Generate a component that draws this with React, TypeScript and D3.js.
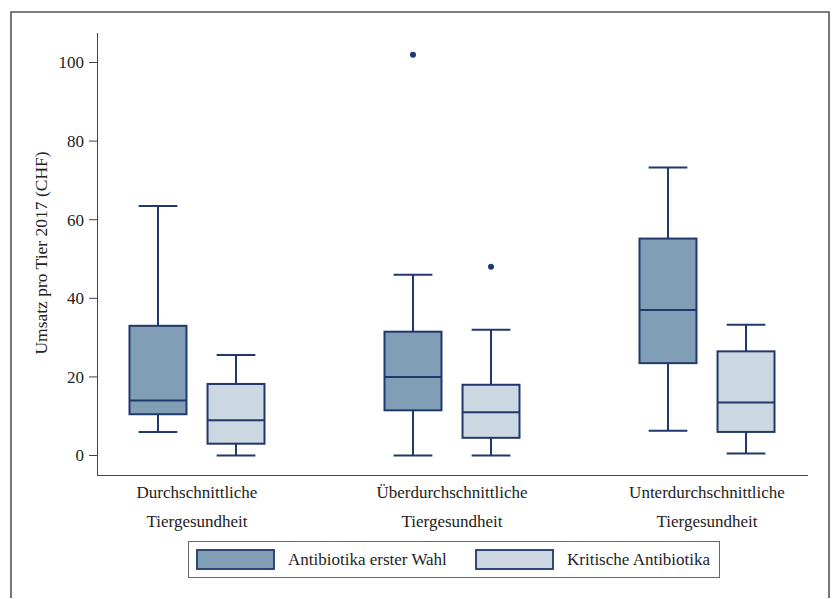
import React from "react";
import * as d3 from "d3";

const categories = ["Durchschnittliche|Tiergesundheit", "Überdurchschnittliche|Tiergesundheit", "Unterdurchschnittliche|Tiergesundheit"];
const seriesNames = ["Antibiotika erster Wahl", "Kritische Antibiotika"];
// [whiskerLow, Q1, median, Q3, whiskerHigh]
const firstChoice = [
  [6, 10.5, 14, 33, 63.5],
  [0, 11.5, 20, 31.5, 46],
  [6.3, 23.5, 37, 55.2, 73.3],
];
const critical = [
  [0, 3, 9, 18.2, 25.6],
  [0, 4.5, 11, 18, 32],
  [0.5, 6, 13.5, 26.5, 33.3],
];
const outliersFirst = [[], [102], []];
const outliersCritical = [[], [48], []];
const yTicks = [0, 20, 40, 60, 80, 100];

const W = 835, H = 599;
const FONT = "'Liberation Serif', 'Times New Roman', serif";
const fills = ["#809eb6", "#cbd7e1"];
const stroke = "#22376b";
const FS = 17;

export default function App() {
  const y = d3.scaleLinear().domain([0, 100]).range([455.5, 62.5]);
  const x = d3.scaleBand().domain(categories).range([69.5, 834.5]).padding(0);
  const sub = d3.scaleBand().domain(seriesNames).range([-67.5, 67.5]).paddingInner(0.27);
  const series = [firstChoice, critical];
  const outs = [outliersFirst, outliersCritical];
  const bw = sub.bandwidth();

  return (
    <svg width={W} height={H} style={{ position: "absolute", left: 0, top: 0 }}>
      <rect x={0} y={0} width={W} height={H} fill="#fff" />
      <path d="M11,598 V12 H829 V598" fill="none" stroke="#555" strokeWidth={1.6} />
      {/* axes */}
      <line x1={97.5} x2={97.5} y1={33} y2={476} stroke="#444" strokeWidth={1} />
      <line x1={97} x2={808} y1={475.5} y2={475.5} stroke="#444" strokeWidth={1} />
      {yTicks.map((t) => (
        <g key={t}>
          <line x1={89} x2={97} y1={y(t)} y2={y(t)} stroke="#444" />
          <text x={84} y={y(t)} dy="0.35em" textAnchor="end" fontFamily={FONT} fontSize={FS} fill="#222">{t}</text>
        </g>
      ))}
      <text transform={`translate(47,${253}) rotate(-90)`} textAnchor="middle" fontFamily={FONT} fontSize={17.5} fill="#222">Umsatz pro Tier 2017 (CHF)</text>
      {categories.map((c, ci) => {
        const cx = (x(c) as number) + x.bandwidth() / 2;
        const lines = c.split("|");
        return (
          <g key={c}>
            <text x={cx} y={498} textAnchor="middle" fontFamily={FONT} fontSize={FS} fill="#222">{lines[0]}</text>
            <text x={cx} y={527} textAnchor="middle" fontFamily={FONT} fontSize={FS} fill="#222">{lines[1]}</text>
            {seriesNames.map((s, si) => {
              const v = series[si][ci];
              const x0 = cx + (sub(s) as number);
              const mid = x0 + bw / 2;
              const cap = bw * 0.34;
              return (
                <g key={s}>
                  <line x1={mid} x2={mid} y1={y(v[3])} y2={y(v[4])} stroke={stroke} strokeWidth={2} />
                  <line x1={mid} x2={mid} y1={y(v[0])} y2={y(v[1])} stroke={stroke} strokeWidth={2} />
                  <line x1={mid - cap} x2={mid + cap} y1={y(v[4])} y2={y(v[4])} stroke={stroke} strokeWidth={2} />
                  <line x1={mid - cap} x2={mid + cap} y1={y(v[0])} y2={y(v[0])} stroke={stroke} strokeWidth={2} />
                  <rect x={x0} y={y(v[3])} width={bw} height={y(v[1]) - y(v[3])} fill={fills[si]} stroke={stroke} strokeWidth={2} />
                  <line x1={x0} x2={x0 + bw} y1={y(v[2])} y2={y(v[2])} stroke={stroke} strokeWidth={2} />
                  {outs[si][ci].map((o, oi) => (
                    <circle key={oi} cx={mid} cy={y(o)} r={3} fill="#1d3c6e" />
                  ))}
                </g>
              );
            })}
          </g>
        );
      })}
      {/* legend */}
      <rect x={188.5} y={541.5} width={531} height={36} fill="#fff" stroke="#666" strokeWidth={1} />
      {seriesNames.map((s, i) => {
        const lx = i === 0 ? 197 : 476;
        const tx = i === 0 ? 288 : 567;
        return (
          <g key={s}>
            <rect x={lx} y={550} width={77} height={19} fill={fills[i]} stroke={stroke} strokeWidth={1.8} />
            <text x={tx} y={565} fontFamily={FONT} fontSize={FS} fill="#222">{s}</text>
          </g>
        );
      })}
    </svg>
  );
}
